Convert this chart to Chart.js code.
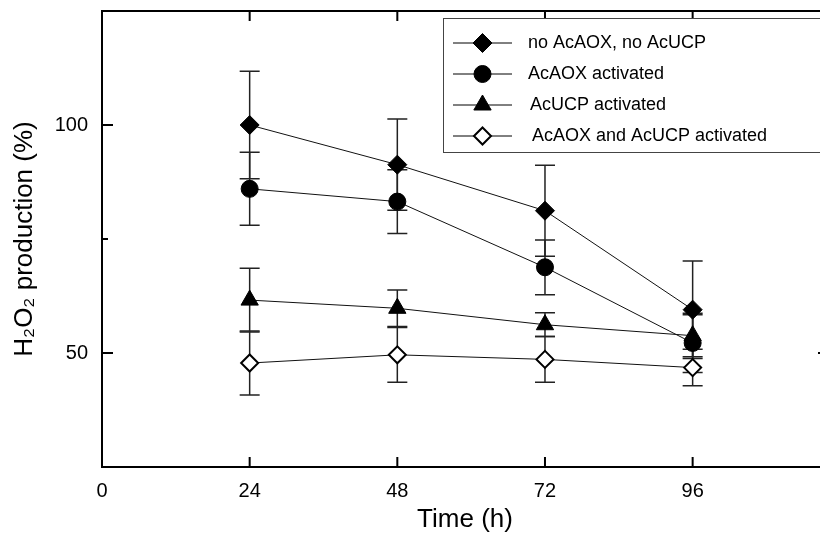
<!DOCTYPE html>
<html lang="en">
<head>
    <meta charset="UTF-8">
    <title>H2O2 production over time</title>
    <script src="https://cdn.jsdelivr.net/npm/chart.js"></script>
    <style>
        html, body {
            margin: 0;
            padding: 0;
            background: #fff;
            overflow: hidden;
        }

        #chartContainer {
            width: 840px;
            height: 533px;
        }
    </style>
</head>
<body>

    <div id="chartContainer">
        <canvas id="chartCanvas"></canvas>
    </div>

    <script>
        // time points (h)
        const times = [24, 48, 72, 96];

        const seriesNames = [
            'no AcAOX, no AcUCP',
            'AcAOX activated',
            'AcUCP activated',
            'AcAOX and AcUCP activated'
        ];

        // H2O2 production (%) and error bars
        const noAoxNoUcp = [100, 91.3, 81.2, 59.5];
        const noAoxNoUcpErr = [11.8, 10, 10, 10.7];

        const aoxActivated = [86, 83.2, 68.8, 52.2];
        const aoxActivatedErr = [8, 7, 6, 6.5];

        const ucpActivated = [61.6, 59.8, 56.2, 53.8];
        const ucpActivatedErr = [7, 4, 2.6, 4.6];

        const bothActivated = [47.8, 49.6, 48.6, 46.8];
        const bothActivatedErr = [7, 6, 5, 4];

        const xTicks = [24, 48, 72, 96];
        const yLabelTicks = [50, 100];

        const allValues = [noAoxNoUcp, aoxActivated, ucpActivated, bothActivated];
        const allErrors = [noAoxNoUcpErr, aoxActivatedErr, ucpActivatedErr, bothActivatedErr];

        const styles = [
            { pointStyle: 'rectRot', radius: 9.5, fill: '#000', borderWidth: 1 },
            { pointStyle: 'circle', radius: 8.5, fill: '#000', borderWidth: 1 },
            { pointStyle: 'triangle', radius: 10, fill: '#000', borderWidth: 1 },
            { pointStyle: 'rectRot', radius: 8.5, fill: '#fff', borderWidth: 2 }
        ];

        const FONT = '"Liberation Sans", Arial, sans-serif';

        // draws the error bars under the markers
        const errorBars = {
            id: 'errorBars',
            beforeDatasetsDraw(chart) {
                const ctx = chart.ctx;
                const xs = chart.scales.x, ys = chart.scales.y;
                ctx.save();
                ctx.strokeStyle = '#222';
                ctx.lineWidth = 1.5;
                allValues.forEach((vals, i) => {
                    vals.forEach((v, j) => {
                        const px = xs.getPixelForValue(times[j]);
                        const top = ys.getPixelForValue(v + allErrors[i][j]);
                        const bot = ys.getPixelForValue(v - allErrors[i][j]);
                        ctx.beginPath();
                        ctx.moveTo(px, top); ctx.lineTo(px, bot);
                        ctx.moveTo(px - 10, top); ctx.lineTo(px + 10, top);
                        ctx.moveTo(px - 10, bot); ctx.lineTo(px + 10, bot);
                        ctx.stroke();
                    });
                });
                ctx.restore();
            }
        };

        // box frame with inward ticks, like the original plot
        const frame = {
            id: 'frame',
            afterDraw(chart) {
                const ctx = chart.ctx;
                const a = chart.chartArea;
                const xs = chart.scales.x, ys = chart.scales.y;
                ctx.save();
                ctx.strokeStyle = '#000';
                ctx.lineWidth = 2;
                ctx.strokeRect(a.left, a.top, a.right - a.left, a.bottom - a.top);
                ctx.beginPath();
                xTicks.forEach(t => {
                    const px = xs.getPixelForValue(t);
                    ctx.moveTo(px, a.bottom); ctx.lineTo(px, a.bottom - 10);
                    ctx.moveTo(px, a.top); ctx.lineTo(px, a.top + 10);
                });
                ys.ticks.forEach(t => {
                    if (t.value <= ys.min || t.value >= ys.max) return;
                    const py = ys.getPixelForValue(t.value);
                    const major = yLabelTicks.includes(t.value);
                    ctx.moveTo(a.left, py); ctx.lineTo(a.left + (major ? 11 : 6), py);
                    if (major) {
                        ctx.moveTo(a.right, py); ctx.lineTo(a.right - 10, py);
                    }
                });
                ctx.stroke();
                ctx.restore();
            }
        };

        function drawMarker(ctx, st, x, y) {
            const r = st.radius;
            ctx.beginPath();
            if (st.pointStyle === 'circle') {
                ctx.arc(x, y, r, 0, Math.PI * 2);
            } else if (st.pointStyle === 'triangle') {
                ctx.moveTo(x, y - r);
                ctx.lineTo(x + r * Math.sin(2 * Math.PI / 3), y + r / 2);
                ctx.lineTo(x - r * Math.sin(2 * Math.PI / 3), y + r / 2);
            } else {
                ctx.moveTo(x - r, y); ctx.lineTo(x, y - r);
                ctx.lineTo(x + r, y); ctx.lineTo(x, y + r);
            }
            ctx.closePath();
            ctx.fillStyle = st.fill;
            ctx.fill();
            ctx.lineWidth = st.borderWidth;
            ctx.strokeStyle = '#000';
            ctx.stroke();
        }

        // boxed legend in the upper right corner
        const boxLegend = {
            id: 'boxLegend',
            afterDraw(chart) {
                const ctx = chart.ctx;
                const left = 443, top = 18, bottom = 152;
                ctx.save();
                ctx.fillStyle = '#fff';
                ctx.fillRect(left, top, chart.width - left, bottom - top);
                ctx.strokeStyle = '#444';
                ctx.lineWidth = 1;
                ctx.strokeRect(left + 0.5, top + 0.5, chart.width, bottom - top);
                const rowY = [43, 74, 105, 136];
                const textX = [528, 528, 530, 532];
                seriesNames.forEach((name, i) => {
                    const y = rowY[i];
                    ctx.strokeStyle = '#000';
                    ctx.lineWidth = 1;
                    ctx.beginPath();
                    ctx.moveTo(453, y); ctx.lineTo(512, y);
                    ctx.stroke();
                    drawMarker(ctx, styles[i], 482.5, y);
                    ctx.fillStyle = '#000';
                    ctx.font = '18px ' + FONT;
                    ctx.textBaseline = 'middle';
                    ctx.fillText(name, textX[i], y);
                });
                ctx.restore();
            }
        };

        const datasets = allValues.map((vals, i) => ({
            label: seriesNames[i],
            data: vals.map((v, j) => ({ x: times[j], y: v })),
            borderColor: '#111',
            borderWidth: 1,
            pointStyle: styles[i].pointStyle,
            pointRadius: styles[i].radius,
            pointBackgroundColor: styles[i].fill,
            pointBorderColor: '#000',
            pointBorderWidth: styles[i].borderWidth,
            fill: false,
            tension: 0
        }));

        new Chart(document.getElementById('chartCanvas'), {
            type: 'line',
            data: { datasets: datasets },
            plugins: [errorBars, frame, boxLegend],
            options: {
                responsive: true,
                maintainAspectRatio: false,
                animation: false,
                layout: { padding: { left: 2, top: 10, right: 12, bottom: 0 } },
                plugins: {
                    legend: { display: false },
                    tooltip: { enabled: false }
                },
                scales: {
                    x: {
                        type: 'linear',
                        min: 0,
                        max: 118,
                        afterFit: s => {
                            s.height = 66;
                            s.paddingLeft = 0;
                            s.paddingRight = 0;
                        },
                        grid: { display: false, drawTicks: false },
                        border: { display: false },
                        ticks: {
                            stepSize: 24,
                            padding: 12,
                            color: '#000',
                            font: { family: FONT, size: 20 },
                            callback: v => (v % 24 === 0 ? v : '')
                        },
                        title: {
                            display: true,
                            text: 'Time (h)',
                            color: '#000',
                            font: { family: FONT, size: 26, lineHeight: 1 },
                            padding: { top: 0, bottom: 0 }
                        }
                    },
                    y: {
                        min: 25,
                        max: 125,
                        afterFit: s => {
                            s.width = 100;
                            s.paddingTop = 0;
                            s.paddingBottom = 0;
                        },
                        grid: { display: false, drawTicks: false },
                        border: { display: false },
                        ticks: {
                            stepSize: 25,
                            padding: 14,
                            color: '#000',
                            font: { family: FONT, size: 20 },
                            callback: v => (yLabelTicks.includes(v) ? v : '')
                        },
                        title: {
                            display: true,
                            text: 'H\u2082O\u2082 production (%)',
                            color: '#000',
                            font: { family: FONT, size: 26 },
                            padding: { top: 7, bottom: 0 }
                        }
                    }
                }
            }
        });
    </script>

</body>
</html>
